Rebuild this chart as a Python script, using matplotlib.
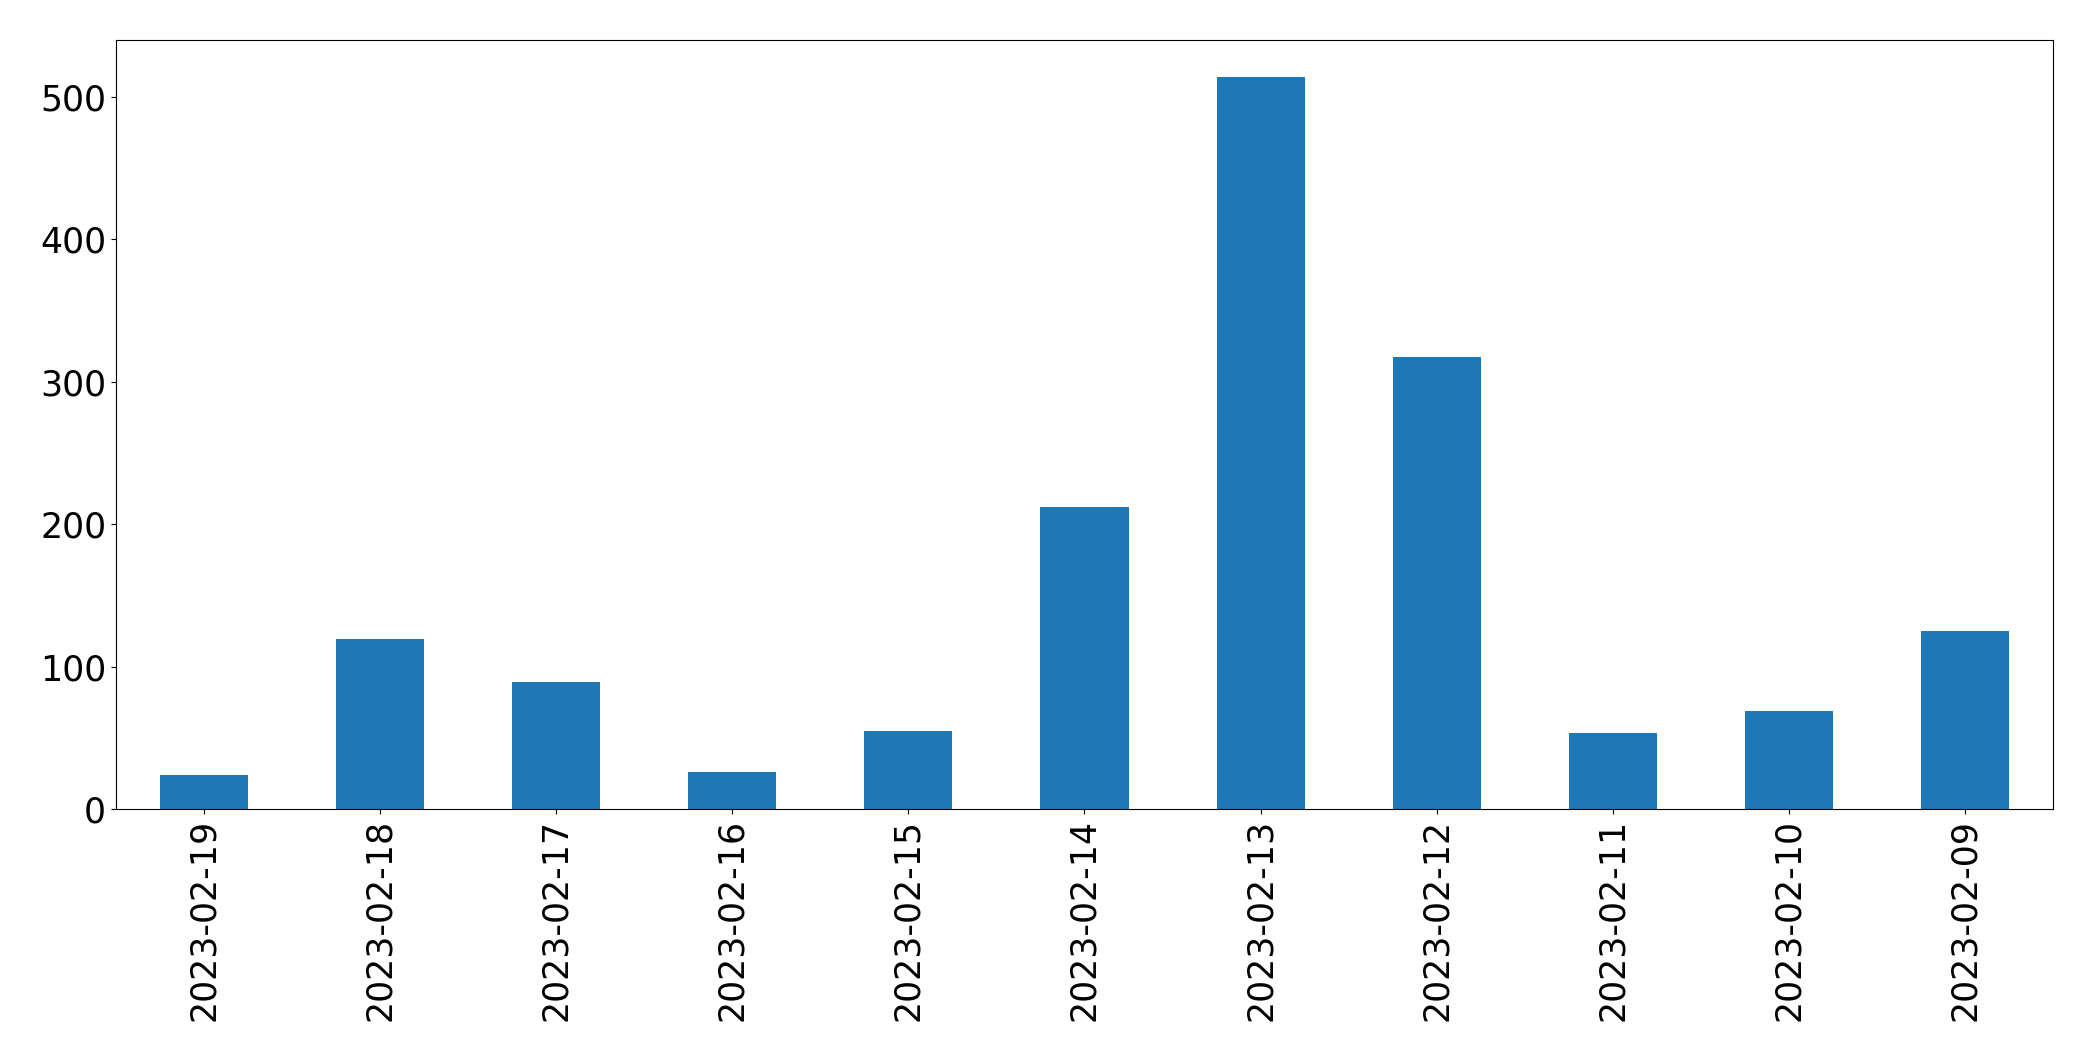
import matplotlib
matplotlib.use("Agg")
import matplotlib.pyplot as plt
import pandas as pd

# daily counts, newest first (as in the original listing)
dates = [
    "2023-02-19", "2023-02-18", "2023-02-17", "2023-02-16", "2023-02-15",
    "2023-02-14", "2023-02-13", "2023-02-12", "2023-02-11", "2023-02-10",
    "2023-02-09",
]
counts = [24, 119, 89, 26, 55, 212, 514, 317, 53, 69, 125]

series = pd.Series(counts, index=dates)

fig = plt.figure(figsize=(20.93, 10.61), dpi=100)
ax = fig.add_axes([0.0554, 0.2375, 0.9255, 0.7248])
series.plot.bar(ax=ax, color="#1f77b4", fontsize=25, rot=90)
ax.tick_params(axis="both", labelsize=25)

fig.savefig("out.png", dpi=100)
